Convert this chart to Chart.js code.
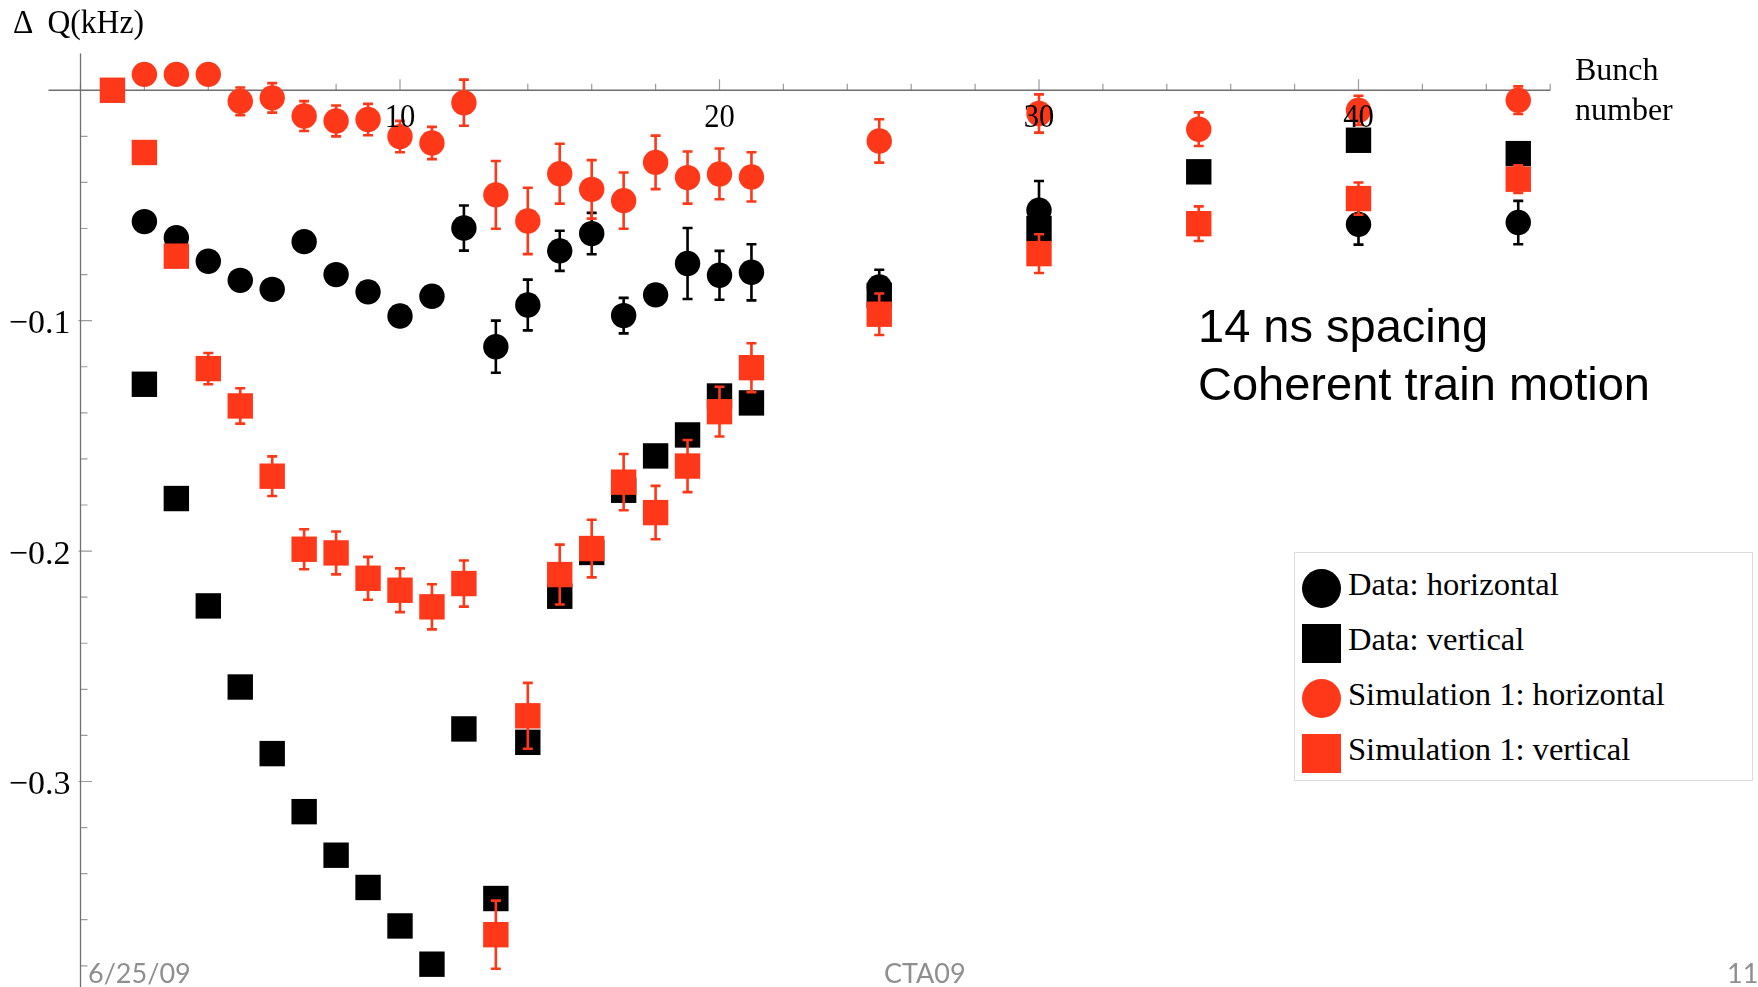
<!DOCTYPE html>
<html>
<head>
<meta charset="utf-8">
<title>Tune shift along the bunch train</title>
<script src="https://cdn.jsdelivr.net/npm/chart.js@4.4.1/dist/chart.umd.min.js"></script>
<style>
  html, body { margin: 0; padding: 0; background: #ffffff; }
  #stage { position: relative; width: 1758px; height: 987px; overflow: hidden; background: #ffffff; }
  #plot { position: absolute; left: 0; top: 0; }
  .txt { position: absolute; white-space: pre; line-height: 1; }
  .serif { font-family: "Liberation Serif", "Times New Roman", serif; color: #000; }
  .sans { font-family: "Liberation Sans", Arial, sans-serif; color: #000; }
  .foot { font-family: Lato, "Open Sans", sans-serif; color: #8f8f8f; font-size: 27px; }
  #legend { position: absolute; left: 1294px; top: 552px; width: 459px; height: 229px;
            border: 1px solid #dcdcdc; box-sizing: border-box; background: #fff; }
  .lg-row { position: absolute; left: 7px; height: 39px; }
  .lg-mark { position: absolute; left: 0; top: 0; width: 39px; height: 39px; }
  .lg-label { position: absolute; left: 46px; font-family: "Liberation Serif", "Times New Roman", serif;
              font-size: 32.6px; line-height: 1; white-space: pre; color: #000; }
</style>
</head>
<body>
<div id="stage">
  <canvas id="plot" width="1758" height="987"></canvas>

  <div class="txt serif" style="left:13px; top:4.5px; font-size:34px; transform:scaleX(0.93); transform-origin:0 0;">Δ  Q(kHz)</div>
  <div class="txt serif" style="left:1575px; top:53.2px; font-size:32px;">Bunch</div>
  <div class="txt serif" style="left:1575px; top:93.2px; font-size:32px;">number</div>

  <div class="txt sans" style="left:1198px; top:302.2px; font-size:47px;">14 ns spacing</div>
  <div class="txt sans" style="left:1198px; top:360.2px; font-size:47px;">Coherent train motion</div>

  <div id="legend"></div>

  <div class="txt foot" style="left:88px; top:959px;">6/25/09</div>
  <div class="txt foot" style="left:884px; top:959px;">CTA09</div>
  <div class="txt foot" style="left:1727px; top:959px;">11</div>
</div>

<script>
// ---- Measured tune shifts (kHz) per bunch number ----
const seriesNames = [
  'Data: horizontal',
  'Data: vertical',
  'Simulation 1: horizontal',
  'Simulation 1: vertical'
];

const dataHorizBunch = [2, 3, 4, 5, 6, 7, 8, 9, 10, 11, 12, 13, 14, 15, 16, 17, 18, 19, 20, 21, 25, 30, 40, 45];
const dataHorizShift = [-0.057, -0.064, -0.0742, -0.0825, -0.0864, -0.0657, -0.080, -0.0875, -0.098, -0.0894,
                        -0.0598, -0.1113, -0.0932, -0.0697, -0.0622, -0.0978, -0.0888, -0.0752, -0.0803, -0.079,
                        -0.0854, -0.0521, -0.0582, -0.0574];
const dataHorizErr   = [0, 0, 0, 0, 0, 0, 0, 0, 0, 0,
                        0.0098, 0.0113, 0.011, 0.0087, 0.009, 0.0077, 0, 0.0154, 0.0106, 0.0122,
                        0.0075, 0.0127, 0.0088, 0.0094];

const dataVertBunch = [2, 3, 4, 5, 6, 7, 8, 9, 10, 11, 12, 13, 14, 15, 16, 17, 18, 19, 20, 21, 25, 30, 35, 40, 45];
const dataVertShift = [-0.1276, -0.1772, -0.2238, -0.259, -0.2879, -0.3131, -0.332, -0.346, -0.3627, -0.3793,
                       -0.2772, -0.3508, -0.283, -0.2196, -0.2006, -0.1736, -0.1587, -0.1496, -0.1327, -0.1357,
                       -0.089, -0.060, -0.0354, -0.0217, -0.0275];
const dataVertErr   = [];

const simHorizBunch = [2, 3, 4, 5, 6, 7, 8, 9, 10, 11, 12, 13, 14, 15, 16, 17, 18, 19, 20, 21, 25, 30, 35, 40, 45];
const simHorizShift = [0.0069, 0.0069, 0.0069, -0.0048, -0.0033, -0.0112, -0.0133, -0.0127, -0.0201, -0.0229,
                       -0.0054, -0.0454, -0.0567, -0.0362, -0.043, -0.0479, -0.0313, -0.0379, -0.0363, -0.0376,
                       -0.022, -0.0101, -0.0169, -0.0087, -0.0043];
const simHorizErr   = [0, 0, 0, 0.006, 0.0064, 0.0065, 0.0067, 0.0068, 0.0068, 0.007,
                       0.010, 0.0147, 0.0144, 0.013, 0.0127, 0.0122, 0.0116, 0.0113, 0.011, 0.0107,
                       0.0094, 0.0083, 0.0073, 0.0063, 0.006];

const simVertBunch = [1, 2, 3, 4, 5, 6, 7, 8, 9, 10, 11, 12, 13, 14, 15, 16, 17, 18, 19, 20, 21, 25, 30, 35, 40, 45];
const simVertShift = [0, -0.027, -0.072, -0.1208, -0.137, -0.1675, -0.1992, -0.2008, -0.2118, -0.217,
                      -0.2242, -0.2141, -0.3665, -0.2715, -0.2102, -0.1989, -0.1701, -0.1833, -0.1631, -0.1395,
                      -0.1204, -0.0972, -0.0709, -0.0579, -0.047, -0.0386];
const simVertErr   = [0, 0, 0, 0.0068, 0.0077, 0.0086, 0.0087, 0.0093, 0.0093, 0.0095,
                      0.0098, 0.01, 0.0148, 0.0143, 0.013, 0.0125, 0.0122, 0.0116, 0.0113, 0.0108,
                      0.0106, 0.009, 0.0084, 0.0075, 0.007, 0.006];

// ---- Axis ticks ----
const xTickLabels = [10, 20, 30, 40];
const xMinorTicks = [0, 2, 4, 6, 8, 12, 14, 16, 18, 22, 24, 26, 28, 32, 34, 36, 38, 42, 44, 46];
const yTickLabels = [-0.1, -0.2, -0.3];
const yMinorTicks = [-0.02, -0.04, -0.06, -0.08, -0.12, -0.14, -0.16, -0.18,
                     -0.22, -0.24, -0.26, -0.28, -0.32, -0.34, -0.36, -0.38];

// ---- Styling ----
const BLACK = '#000000';
const RED = '#ff381a';
const AXIS_COLOR = '#6f6f6f';
const TICK_COLOR = '#9c9c9c';
const LABEL_FONT = '34px "Liberation Serif", "Times New Roman", serif';
const MARK = 12.7;               // circle radius in px
const RECT_R = 12.7 * Math.SQRT2; // rect radius so that the square side equals the circle diameter

function series(label, bunches, shifts, errs, color, shape, order) {
  return {
    label,
    data: bunches.map((b, i) => ({ x: b, y: shifts[i] })),
    errors: bunches.map((b, i) => errs[i] || 0),
    backgroundColor: color,
    borderColor: color,
    pointStyle: shape,
    pointRadius: shape === 'rect' ? RECT_R : MARK,
    pointBorderWidth: 0,
    showLine: false,
    clip: false,
    order
  };
}

// Axes crossing at the origin, with ticks pointing into the plot
const crossedAxes = {
  id: 'crossedAxes',
  beforeDatasetsDraw(chart) {
    const { ctx, chartArea, scales: { x, y } } = chart;
    const x0 = x.getPixelForValue(0);
    const y0 = y.getPixelForValue(0);
    ctx.save();
    ctx.strokeStyle = TICK_COLOR;
    ctx.lineWidth = 1.2;
    ctx.beginPath();
    xMinorTicks.forEach(v => { const p = x.getPixelForValue(v); ctx.moveTo(p, y0); ctx.lineTo(p, y0 - 6.5); });
    xTickLabels.forEach(v => { const p = x.getPixelForValue(v); ctx.moveTo(p, y0); ctx.lineTo(p, y0 - 11); });
    yMinorTicks.forEach(v => { const p = y.getPixelForValue(v); ctx.moveTo(x0, p); ctx.lineTo(x0 + 7, p); });
    yTickLabels.forEach(v => { const p = y.getPixelForValue(v); ctx.moveTo(x0 - 2, p); ctx.lineTo(x0 + 11.5, p); });
    ctx.stroke();
    ctx.strokeStyle = AXIS_COLOR;
    ctx.lineWidth = 1.3;
    ctx.beginPath();
    ctx.moveTo(chartArea.left, y0); ctx.lineTo(chartArea.right, y0);
    ctx.moveTo(x0, chartArea.top); ctx.lineTo(x0, chartArea.bottom);
    ctx.stroke();
    ctx.restore();
  },
  afterDatasetsDraw(chart) {
    const { ctx, scales: { x, y } } = chart;
    const x0 = x.getPixelForValue(0);
    const y0 = y.getPixelForValue(0);
    ctx.save();
    ctx.fillStyle = '#000';
    ctx.font = LABEL_FONT;
    ctx.textBaseline = 'alphabetic';
    xTickLabels.forEach(v => {
      ctx.save();
      ctx.translate(x.getPixelForValue(v), y0 + 36.5);
      ctx.scale(0.9, 1);
      ctx.textAlign = 'center';
      ctx.fillText(String(v), 0, 0);
      ctx.restore();
    });
    ctx.textAlign = 'right';
    yTickLabels.forEach(v => ctx.fillText('\u2212' + Math.abs(v).toFixed(1), x0 - 10, y.getPixelForValue(v) + 12.5));
    ctx.restore();
  }
};

// Vertical error bars with caps, drawn with each dataset
const errorBars = {
  id: 'errorBars',
  afterDatasetDraw(chart, args) {
    const ds = chart.data.datasets[args.index];
    if (!ds.errors) return;
    const { ctx, scales: { x, y } } = chart;
    ctx.save();
    ctx.strokeStyle = ds.borderColor;
    ctx.lineWidth = 2.6;
    ctx.lineCap = 'butt';
    ds.data.forEach((pt, i) => {
      const e = ds.errors[i];
      if (!e) return;
      const px = x.getPixelForValue(pt.x);
      const top = y.getPixelForValue(pt.y + e);
      const bot = y.getPixelForValue(pt.y - e);
      ctx.beginPath();
      ctx.moveTo(px, top); ctx.lineTo(px, bot);
      ctx.moveTo(px - 5, top); ctx.lineTo(px + 5, top);
      ctx.moveTo(px - 5, bot); ctx.lineTo(px + 5, bot);
      ctx.stroke();
    });
    ctx.restore();
  }
};

// Plot frame: x = 0 sits at 80.5 px, 31.95 px per bunch; y = 0 sits at 90.3 px, 2304 px per kHz
const X_MIN = -1, X_MAX = 46, Y_MIN = -0.3892, Y_MAX = 0.016;

const chart = new Chart(document.getElementById('plot'), {
  type: 'scatter',
  data: {
    datasets: [
      series(seriesNames[0], dataHorizBunch, dataHorizShift, dataHorizErr, BLACK, 'circle', 4),
      series(seriesNames[1], dataVertBunch, dataVertShift, dataVertErr, BLACK, 'rect', 3),
      series(seriesNames[2], simHorizBunch, simHorizShift, simHorizErr, RED, 'circle', 2),
      series(seriesNames[3], simVertBunch, simVertShift, simVertErr, RED, 'rect', 1)
    ]
  },
  options: {
    responsive: false,
    devicePixelRatio: 1,
    animation: false,
    events: [],
    layout: { autoPadding: false, padding: { left: 48.55, right: 207.8, top: 53.4, bottom: 0 } },
    scales: {
      x: { type: 'linear', min: X_MIN, max: X_MAX, display: false },
      y: { type: 'linear', min: Y_MIN, max: Y_MAX, display: false }
    },
    plugins: { legend: { display: false }, tooltip: { enabled: false } }
  },
  plugins: [crossedAxes, errorBars]
});

// Legend box built from the chart's datasets
const legend = document.getElementById('legend');
chart.data.datasets.forEach((ds, i) => {
  const row = document.createElement('div');
  row.className = 'lg-row';
  row.style.top = (16 + i * 55) + 'px';
  const mark = document.createElement('div');
  mark.className = 'lg-mark';
  mark.style.background = ds.backgroundColor;
  if (ds.pointStyle === 'circle') mark.style.borderRadius = '50%';
  const lab = document.createElement('div');
  lab.className = 'lg-label';
  lab.style.top = (26 - 0.8375 * 32.6) + 'px';
  lab.textContent = ds.label;
  row.appendChild(mark);
  row.appendChild(lab);
  legend.appendChild(row);
});
</script>
</body>
</html>
